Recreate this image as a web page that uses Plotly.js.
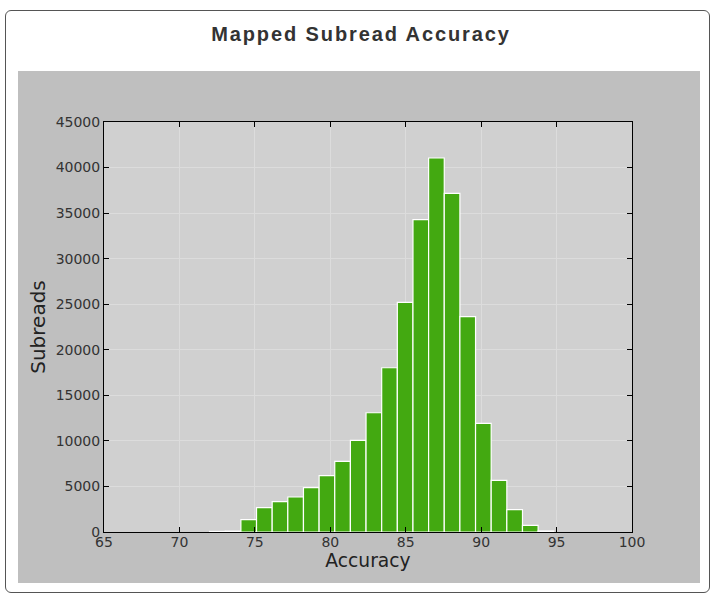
<!DOCTYPE html>
<html>
<head>
<meta charset="utf-8">
<script src="https://cdn.plot.ly/plotly-3.0.1.min.js"></script>
<style>
  html, body { margin: 0; padding: 0; background: #fff; }
  #frame {
    position: absolute; left: 5px; top: 10px; width: 705px; height: 583px;
    border: 1px solid #555; border-radius: 6px; box-sizing: border-box;
  }
  #chart { position: absolute; left: 0; top: 0; width: 710px; height: 595px; }
  #chart .gtitle { letter-spacing: 1.9px; }
</style>
</head>
<body>
<div id="frame"></div>
<div id="chart"></div>
<script>
// histogram bins (left edge) and counts
const binWidth = 1.037;
const binLeft = [72.0, 73.037, 74.074, 75.111, 76.148, 77.185, 78.222, 79.259, 80.296, 81.333,
                 82.37, 83.407, 84.444, 85.481, 86.518, 87.555, 88.592, 89.629, 90.666, 91.703,
                 92.74, 93.777];
const counts = [60, 90, 1360, 2670, 3330, 3840, 4860, 6180, 7750, 10050,
                13090, 18030, 25200, 34280, 41050, 37160, 23630, 11920, 5660, 2450,
                720, 110];
const xTicks = [65, 70, 75, 80, 85, 90, 95, 100];
const yTicks = [0, 5000, 10000, 15000, 20000, 25000, 30000, 35000, 40000, 45000];

const tickFont = { family: 'DejaVu Sans', size: 14, color: '#333' };

const trace = {
  type: 'bar',
  x: binLeft.map(b => b + binWidth / 2),
  y: counts,
  width: binLeft.map(() => binWidth),
  marker: { color: '#43a911', line: { color: '#ffffff', width: 1.2 } },
  hoverinfo: 'x+y'
};

const layout = {
  width: 710,
  height: 595,
  margin: { l: 104, r: 78, t: 122, b: 63 },
  paper_bgcolor: 'rgba(0,0,0,0)',
  plot_bgcolor: 'rgba(0,0,0,0)',
  showlegend: false,
  bargap: 0,
  title: {
    text: '<b>Mapped Subread Accuracy</b>',
    font: { family: 'Liberation Sans, Arial', size: 20, color: '#333' },
    x: 361 / 710, xref: 'container', xanchor: 'center',
    y: 1 - 34 / 595, yref: 'container', yanchor: 'middle'
  },
  xaxis: {
    range: [65, 100],
    tickvals: xTicks,
    ticktext: xTicks.map(String),
    ticks: 'inside', ticklen: 5, tickcolor: '#000', tickwidth: 1,
    showline: true, linecolor: '#000', linewidth: 1, mirror: 'ticks',
    showgrid: true, gridcolor: '#dcdcdc', gridwidth: 1,
    zeroline: false,
    tickfont: tickFont,
    ticklabelstandoff: -3,
    title: { text: 'Accuracy', font: { family: 'DejaVu Sans', size: 18.7, color: '#222' }, standoff: 0 },
    fixedrange: true
  },
  yaxis: {
    range: [0, 45000],
    tickvals: yTicks,
    ticktext: yTicks.map(String),
    ticks: 'inside', ticklen: 5, tickcolor: '#000', tickwidth: 1,
    showline: true, linecolor: '#000', linewidth: 1, mirror: 'ticks',
    showgrid: true, gridcolor: '#dcdcdc', gridwidth: 1,
    zeroline: false,
    tickfont: tickFont,
    title: { text: 'Subreads', font: { family: 'DejaVu Sans', size: 20, color: '#222' }, standoff: 4 },
    fixedrange: true
  },
  shapes: [
    // gray figure panel
    { type: 'rect', xref: 'paper', yref: 'paper', layer: 'below',
      x0: (18 - 104) / 528, x1: (700 - 104) / 528,
      y0: (532 - 583) / 410, y1: (532 - 71) / 410,
      fillcolor: '#bfbfbf', line: { width: 0 } },
    // axes background
    { type: 'rect', xref: 'paper', yref: 'paper', layer: 'below',
      x0: 0, x1: 1, y0: 0, y1: 1,
      fillcolor: '#d0d0d0', line: { width: 0 } }
  ]
};

Plotly.newPlot('chart', [trace], layout, { displayModeBar: false, staticPlot: true });
</script>
</body>
</html>
